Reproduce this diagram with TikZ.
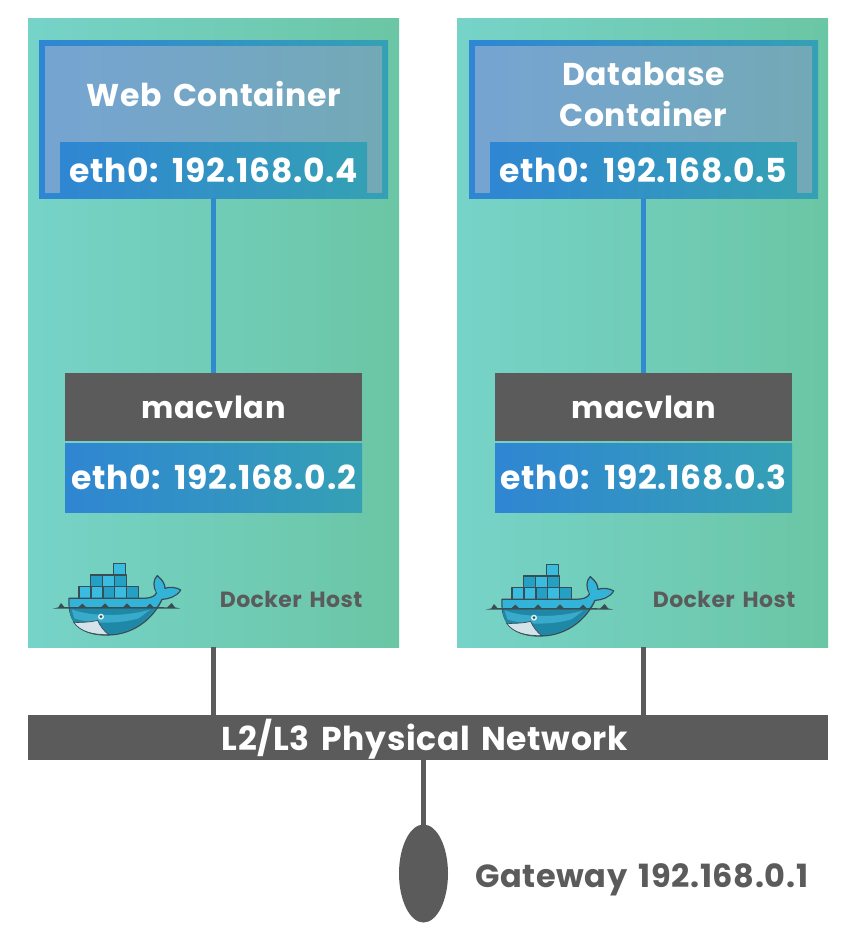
\documentclass[tikz,border=0pt]{standalone}
\usepackage{fontspec}
\usetikzlibrary{shapes.geometric}
\setmainfont{Poppins}[LetterSpace=2,WordSpace=1.5]
\definecolor{hostL}{HTML}{76D3C8}
\definecolor{hostR}{HTML}{6BC6A5}
\definecolor{blueL}{HTML}{2F86D2}
\definecolor{blueR}{HTML}{35A0B5}
\definecolor{innerL}{HTML}{76A4D2}
\definecolor{innerR}{HTML}{73A9B6}
\definecolor{slate}{HTML}{5B5B5B}
\definecolor{whaleline}{HTML}{394D54}
\definecolor{boxlight}{HTML}{3ABBE0}
\definecolor{boxdark}{HTML}{24A0C4}
\tikzset{
  box/.style={rectangle,inner sep=0pt,outer sep=0pt,align=center,text=white,font=\bfseries},
  hostbox/.style={box,left color=hostL,right color=hostR,minimum width=371pt,minimum height=628pt},
  framebox/.style={box,left color=blueL,right color=blueR,minimum width=349pt,minimum height=157pt},
  innerbox/.style={box,left color=innerL,right color=innerR,minimum width=337pt,minimum height=145pt},
  ethbox/.style={box,left color=blueL,right color=blueR,minimum width=307pt,minimum height=56pt,font=\fontsize{33}{38}\selectfont\bfseries},
  nicbox/.style={box,left color=blueL,right color=blueR,minimum width=297pt,minimum height=69pt,font=\fontsize{33}{38}\selectfont\bfseries},
  macbox/.style={box,fill=slate,minimum width=297pt,minimum height=68pt,font=\fontsize{30.5}{36}\selectfont\bfseries},
  titletext/.style={inner sep=0pt,align=center,text=white,font=\fontsize{31.5}{41}\selectfont\bfseries},
  hosttext/.style={inner sep=0pt,text=slate,font=\fontsize{22}{26}\selectfont\bfseries},
  bluewire/.style={draw=blueL!85!blueR,line width=4.5pt},
  graywire/.style={draw=slate,line width=5pt},
  whaleedge/.style={draw=whaleline,line width=1.1pt,line join=round}
}
\newcommand{\whaleat}[2]{%
\begin{scope}[shift={(#1,#2)},x=0.3333pt,y=-0.3333pt]
  \foreach \xa/\ya/\c in {250/40/boxlight,182/75/boxdark,218/75/boxlight,254/75/boxdark,147/110/boxlight,183/110/boxlight,219/110/boxdark,254/110/boxlight,290/110/boxdark}
    \filldraw[fill=\c,whaleedge] (\xa,\ya) rectangle ++(36,35);
  \path[fill=boxdark,draw=whaleline,line width=1.3pt,line join=round]
    (117,145) -- (340,145) .. controls (360,145) and (375,140) .. (380,128)
    .. controls (368,110) and (370,88) .. (382,77)
    .. controls (398,90) and (405,103) .. (405,115)
    .. controls (420,110) and (440,112) .. (452,120)
    .. controls (440,140) and (415,147) .. (396,148)
    .. controls (375,195) and (320,255) .. (230,255)
    .. controls (160,255) and (113,225) .. (117,145) -- cycle;
  \path[fill=boxlight!70!boxdark]
    (119,147) -- (340,147) .. controls (362,147) and (377,142) .. (382,130)
    .. controls (371,110) and (372,90) .. (382,81)
    .. controls (396,92) and (403,105) .. (403,118)
    .. controls (420,113) and (438,114) .. (449,121)
    .. controls (438,138) and (415,145) .. (394,146)
    .. controls (388,158) and (382,166) .. (375,175) -- (119,175) -- cycle;
  \path[fill=boxdark!85!black]
    (119,175) -- (375,175) .. controls (345,220) and (295,253) .. (230,253)
    .. controls (165,253) and (118,225) .. (119,175) -- cycle;
  \path[fill=boxdark!90!white]
    (125,178) .. controls (190,203) and (300,198) .. (362,178) .. controls (345,190) and (335,200) .. (325,205) .. controls (270,222) and (180,222) .. (133,205) -- cycle;
  \path[fill=black!10!white!90!cyan,draw=whaleline,line width=.7pt]
    (131,217) .. controls (155,218) and (185,216) .. (203,211)
    .. controls (210,228) and (222,243) .. (236,254)
    .. controls (190,255) and (150,245) .. (131,217) -- cycle;
  \path[fill=white!85!cyan] (213,200) circle (9);
  \path[fill=whaleline] (213,200) circle (4.5);
  \path[fill=whaleline] (68,176)
    -- (85,172) -- (93,159) -- (103,171) .. controls (125,172) and (135,172) .. (146,171)
    -- (157,161) -- (168,171) .. controls (190,172) and (205,172) .. (214,171)
    -- (225,160) -- (236,171) .. controls (255,172) and (270,172) .. (280,171)
    -- (291,160) -- (302,171) .. controls (325,172) and (340,172) .. (350,171)
    -- (360,161) -- (370,171) -- (412,172) -- (425,159) -- (435,172) -- (452,176) -- cycle;
\end{scope}}
\begin{document}
\begin{tikzpicture}[x=1pt,y=-1pt]
\path[use as bounding box,fill=white] (0,0) rectangle (853,942);
% hosts
\node[hostbox] (host1) at (213.5,333) {};
\node[hostbox] (host2) at (642.5,333) {};
% containers
\node[framebox] (frame1) at (213.5,119.5) {};
\node[innerbox] (inner1) at (213.5,119.5) {};
\node[framebox] (frame2) at (643.5,119.5) {};
\node[innerbox] (inner2) at (643.5,119.5) {};
\node[ethbox] (eth1) at (213.5,170) {eth0: 192.168.0.4};
\node[ethbox] (eth2) at (643.5,170) {eth0: 192.168.0.5};
\node[titletext] (title1) at (214,94) {Web Container};
\node[titletext] (title2) at (643.5,94.5) {Database\\Container};
% macvlan
\node[macbox] (mac1) at (213.5,407) {macvlan};
\node[macbox] (mac2) at (643.5,407) {macvlan};
\node[nicbox] (nic1) at (213.5,477.5) {eth0: 192.168.0.2};
\node[nicbox] (nic2) at (643.5,477.5) {eth0: 192.168.0.3};
\draw[bluewire] (eth1.south) -- (mac1.north);
\draw[bluewire] (eth2.south) -- (mac2.north);
% whales
\whaleat{30}{550}
\whaleat{463}{551}
\node[hosttext] (label1) at (291,599) {Docker Host};
\node[hosttext] (label2) at (724,599) {Docker Host};
% network
\node[box,fill=slate,minimum width=800pt,minimum height=45pt] (net) at (428,737.5) {};
\node[inner sep=0pt,text=white,font=\fontsize{33}{38}\selectfont\bfseries] (nettext) at (425,739.5) {L2/L3 Physical Network};
\node[ellipse,fill=slate,minimum width=49pt,minimum height=98pt,inner sep=0pt,outer sep=0pt] (gw) at (423.5,873.5) {};
\node[inner sep=0pt,text=slate,anchor=west,font=\fontsize{32}{38}\selectfont\bfseries] (gwtext) at (475,880) {Gateway 192.168.0.1};
\draw[graywire] (host1.south) -- (host1.south |- net.north);
\draw[graywire] (eth2.south |- host2.south) -- (eth2.south |- net.north);
\draw[graywire] (gw.north) -- (gw.north |- net.south);
\end{tikzpicture}
\end{document}
